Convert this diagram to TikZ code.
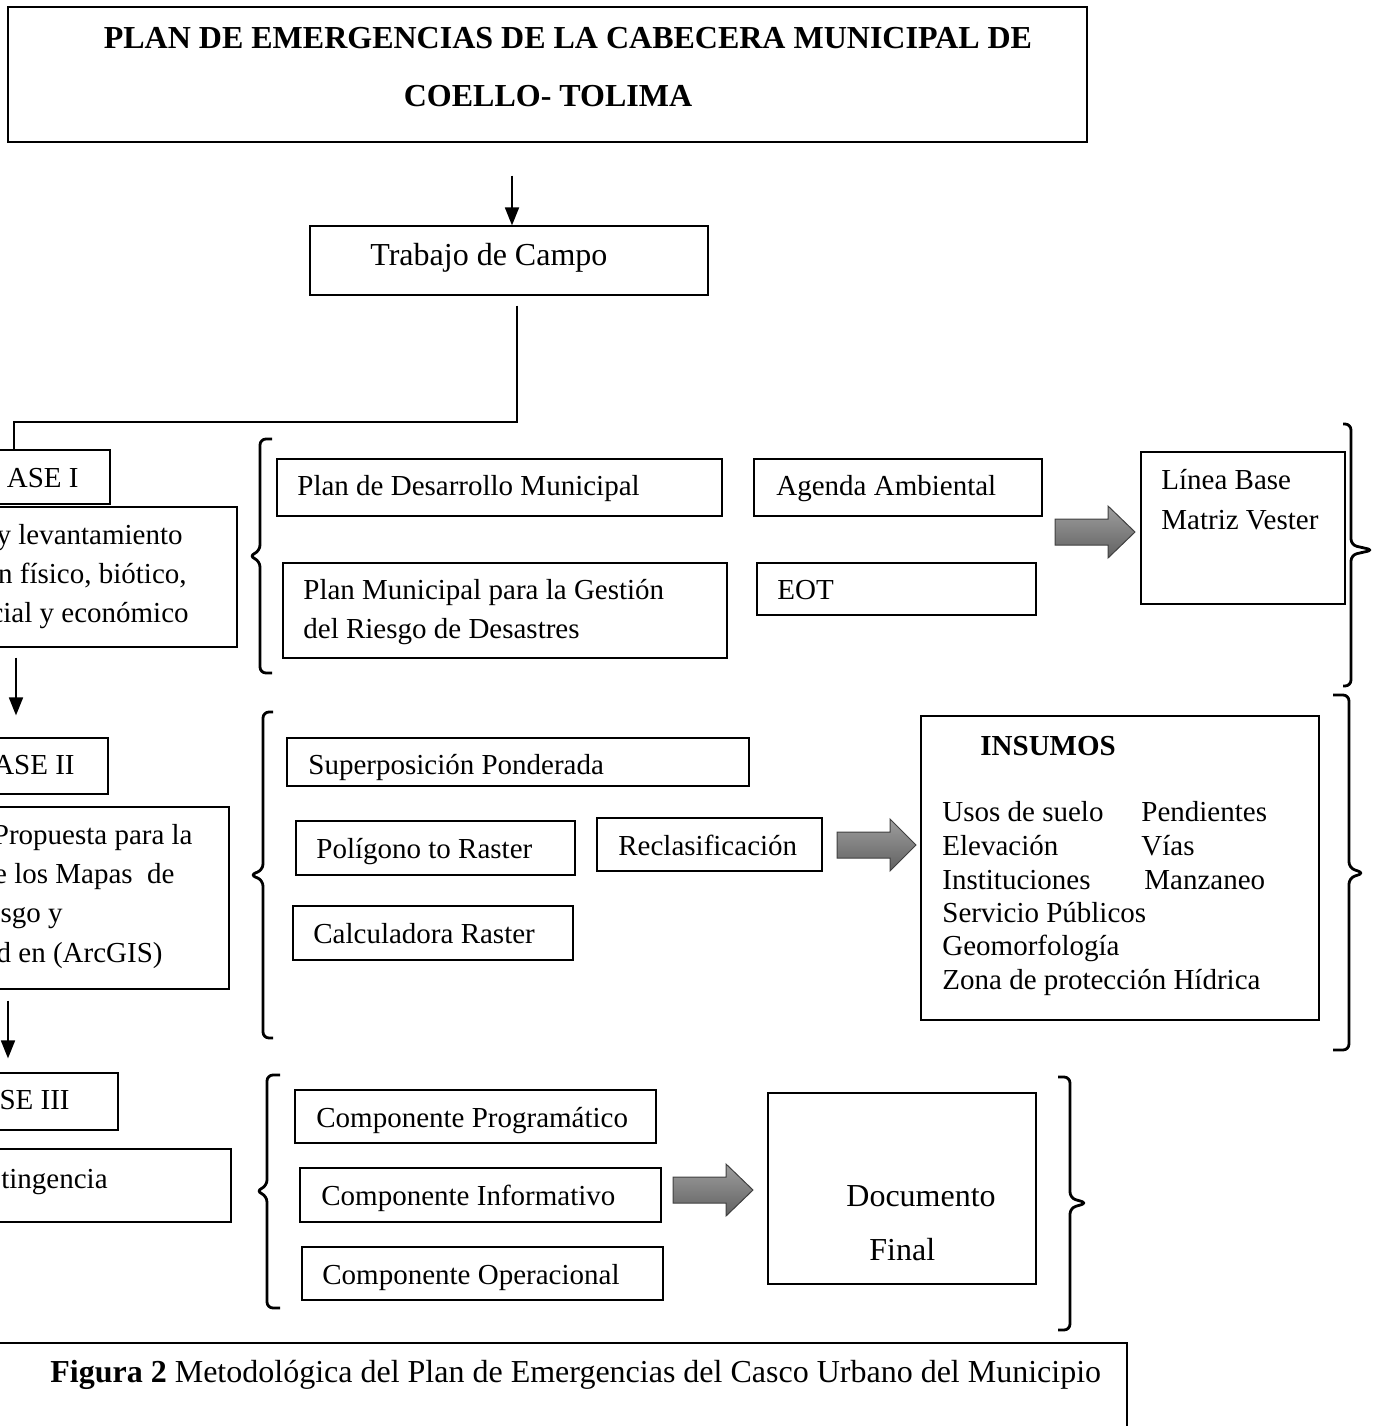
\documentclass[tikz,border=0pt]{standalone}
\usepackage{fontspec}
\setmainfont{Liberation Serif}
\usetikzlibrary{arrows.meta,fit}

\tikzset{
  box/.style={draw, line width=0.6pt, inner sep=0pt},
  txt/.style={anchor=base west, inner sep=0pt},
  txtr/.style={anchor=base east, inner sep=0pt},
  big/.style={font=\fontsize{16}{19}\selectfont},
  arr/.style={line width=0.9pt, -{Triangle[length=9pt,width=7pt]}},
  conn/.style={line width=1.2pt},
  bracket/.style={line width=1.4pt, rounded corners=3pt},
  blockarrow/.style={draw=black!75, line width=0.5pt, top color=black!38, bottom color=black!62},
}

\begin{document}
\begin{tikzpicture}[x=0.5pt, y=-0.5pt, font=\fontsize{14.5}{17}\selectfont]
  \useasboundingbox (0,0) rectangle (1378,1426);
  \clip (0,0) rectangle (1378,1426);

  % title and field work
  \node[box, fit={(8,7) (1087,142)}] (title) {};
  \node[anchor=base, inner sep=0pt, font=\fontsize{16}{19}\selectfont\bfseries] (title1) at (568,48) {PLAN DE EMERGENCIAS DE LA CABECERA MUNICIPAL DE};
  \node[anchor=base, inner sep=0pt, font=\fontsize{16}{19}\selectfont\bfseries] (title2) at (548,106) {COELLO- TOLIMA};
  \node[box, fit={(310,226) (708,295)}] (trab) {};
  \node[txt, big] (trabt) at (370,265) {Trabajo de Campo};

  % phases (cut at the left edge)
  \node[box, fit={(-40,450) (110,504)}] (f1) {};
  \node[txtr] (f1t) at (79,487) {ASE I};
  \node[box, fit={(-40,507) (237,647)}] (f1d) {};
  \node[txtr] at (183,544) {y levantamiento};
  \node[txtr] at (187,583) {n físico, biótico,};
  \node[txtr] at (189,622) {cial y económico};

  \node[box, fit={(-40,738) (108,794)}] (f2) {};
  \node[txtr] (f2t) at (75,774) {ASE II};
  \node[box, fit={(-40,807) (229,989)}] (f2d) {};
  \node[txtr] at (193,844) {Propuesta para la};
  \node[txtr] at (175,883) {e los Mapas\ \ de};
  \node[txtr] at (63,922) {esgo y};
  \node[txtr] at (163,962) {d en (ArcGIS)};

  \node[box, fit={(-40,1073) (118,1130)}] (f3) {};
  \node[txtr] (f3t) at (70,1109) {SE III};
  \node[box, fit={(-40,1149) (231,1222)}] (f3d) {};
  \node[txtr] at (108,1188) {tingencia};

  % group I
  \node[box, fit={(277,459) (722,516)}] (pdm) {};
  \node[txt] at (297,495) {Plan de Desarrollo Municipal};
  \node[box, fit={(754,459) (1042,516)}] (agenda) {};
  \node[txt] at (776,495) {Agenda Ambiental};
  \node[box, fit={(283,563) (727,658)}] (pmgrd) {};
  \node[txt] at (303,599) {Plan Municipal para la Gestión};
  \node[txt] at (303,638) {del Riesgo de Desastres};
  \node[box, fit={(757,563) (1036,615)}] (eot) {};
  \node[txt] at (777,599) {EOT};
  \node[box, fit={(1141,452) (1345,604)}] (linea) {};
  \node[txt] at (1161,489) {Línea Base};
  \node[txt] at (1161,529) {Matriz Vester};

  % group II
  \node[box, fit={(287,738) (749,786)}] (superp) {};
  \node[txt] at (308,774) {Superposición Ponderada};
  \node[box, fit={(296,821) (575,875)}] (polig) {};
  \node[txt] at (316,858) {Polígono to Raster};
  \node[box, fit={(597,818) (822,871)}] (reclas) {};
  \node[txt] at (618,855) {Reclasificación};
  \node[box, fit={(293,906) (573,960)}] (calc) {};
  \node[txt] at (313,943) {Calculadora Raster};
  \node[box, fit={(921,716) (1319,1020)}] (insumos) {};
  \node[txt, font=\fontsize{14.5}{17}\selectfont\bfseries] at (980,755) {INSUMOS};
  \node[txt] at (942,821) {Usos de suelo};
  \node[txt] at (1141,821) {Pendientes};
  \node[txt] at (942,855) {Elevación};
  \node[txt] at (1141,855) {Vías};
  \node[txt] at (942,889) {Instituciones};
  \node[txt] at (1144,889) {Manzaneo};
  \node[txt] at (942,922) {Servicio Públicos};
  \node[txt] at (942,955) {Geomorfología};
  \node[txt] at (942,989) {Zona de protección Hídrica};

  % group III
  \node[box, fit={(295,1090) (656,1143)}] (cprog) {};
  \node[txt] at (316,1127) {Componente Programático};
  \node[box, fit={(300,1168) (661,1222)}] (cinfo) {};
  \node[txt] at (321,1205) {Componente Informativo};
  \node[box, fit={(302,1247) (663,1300)}] (coper) {};
  \node[txt] at (322,1284) {Componente Operacional};
  \node[box, fit={(768,1093) (1036,1284)}] (docfin) {};
  \node[txt, big] at (846,1206) {Documento};
  \node[txt, big] at (869,1260) {Final};

  % caption
  \node[box, fit={(-20,1343) (1127,1460)}] (caption) {};
  \node[txt, big] (capt) at (50,1382) {\textbf{Figura 2} Metodológica del Plan de Emergencias del Casco Urbano del Municipio};

  % connectors
  \coordinate (elbow) at (14,422);
  \draw[arr, shorten <=16.5pt] ([xshift=1.5pt]trab.north |- title.south) -- ([xshift=1.5pt]trab.north);
  \draw[conn, shorten <=5pt] ([xshift=4pt]trab.south) |- (elbow) -- (elbow |- f1.north);
  \draw[arr, shorten <=5pt, shorten >=11pt] (f1d.south -| 16,0) -- (f2.north -| 16,0);
  \draw[arr, shorten <=5.5pt, shorten >=7pt] (f2d.south -| 8,0) -- (f3.north -| 8,0);

  % braces: ends, spine, tip, top, bottom, middle
  \foreach \e/\s/\t/\ya/\yb/\ym in {272/260/249/439/673/556, 273/263/250/712/1038/875,
      280/267/256/1075/1308/1191, 1343/1351/1373/424/686/550,
      1333/1349/1364/695/1050/873, 1058/1070/1087/1077/1330/1203}
    \draw[bracket] (\e,\ya) -- (\s,\ya) -- (\s,\ym-5) -- (\t,\ym) -- (\s,\ym+5)
      -- (\s,\yb) -- (\e,\yb);

  % block arrows
  \foreach \xa/\xb/\xc/\ym in {1055/1108/1135/532, 837/890/916/845, 673/726/753/1190}
    \draw[blockarrow] (\xa,\ym-13) -- (\xb,\ym-13) -- (\xb,\ym-26) -- (\xc,\ym)
      -- (\xb,\ym+26) -- (\xb,\ym+13) -- (\xa,\ym+13) -- cycle;
\end{tikzpicture}
\end{document}
